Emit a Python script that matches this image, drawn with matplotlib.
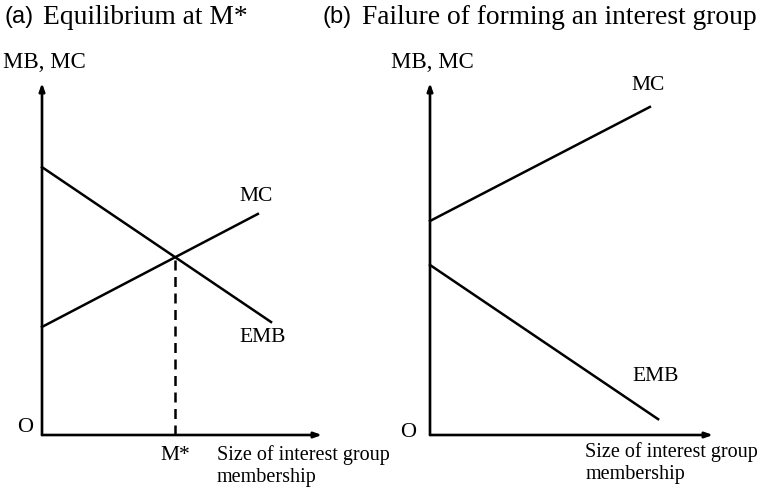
import matplotlib
matplotlib.use('Agg')
import matplotlib.pyplot as plt

# panel (a): lines given by (x, y) endpoints in axis units (0..10)
emb_a_x = [0, 8.18]
emb_a_y = [7.61, 3.21]
mc_a_x = [0, 7.71]
mc_a_y = [3.07, 6.28]

# panel (b)
emb_b_x = [0, 8.06]
emb_b_y = [4.83, 0.45]
mc_b_x = [0, 7.77]
mc_b_y = [6.08, 9.32]

titles = ["Equilibrium at M*", "Failure of forming an interest group"]
tags = ["(a)", "(b)"]
ylabel = "MB, MC"
xlabel = "Size of interest group\nmembership"

serif = 'Liberation Serif'
sans = 'Liberation Sans'
fs = 15.5

W, H = 760, 493
fig = plt.figure(figsize=(W / 100, H / 100), dpi=100)


def px_axes(left, right, bottom, top):
    return fig.add_axes([left / W, 1 - bottom / H, (right - left) / W, (bottom - top) / H])


def draw_axes(ax):
    ax.set_xlim(0, 10)
    ax.set_ylim(0, 10)
    ax.axis('off')
    arrow = dict(arrowstyle='-|>,head_length=0.45,head_width=0.16', lw=1.9, color='black',
                 shrinkA=0, shrinkB=0)
    ax.annotate('', xy=(10, 0), xytext=(0, 0), arrowprops=arrow, annotation_clip=False)
    ax.annotate('', xy=(0, 10), xytext=(0, 0), arrowprops=arrow, annotation_clip=False)


def line_cross(x1, y1, x2, y2):
    m1 = (y1[1] - y1[0]) / (x1[1] - x1[0])
    m2 = (y2[1] - y2[0]) / (x2[1] - x2[0])
    x = (y2[0] - y1[0]) / (m1 - m2)
    return x, y1[0] + m1 * x


# ---- panel (a)
ax1 = px_axes(42, 322, 435, 83)
draw_axes(ax1)
ax1.plot(emb_a_x, emb_a_y, color='black', lw=1.8, clip_on=False)
ax1.plot(mc_a_x, mc_a_y, color='black', lw=1.8, clip_on=False)
mx, my = line_cross(emb_a_x, emb_a_y, mc_a_x, mc_a_y)
ax1.plot([mx, mx], [0, my], color='black', lw=1.8, dashes=(4, 2.6), clip_on=False)
ax1.text(mc_a_x[1] - 0.05, mc_a_y[1] + 0.5, "MC", fontsize=fs, family=serif, ha='center', va='center')
ax1.text(emb_a_x[1] - 0.3, emb_a_y[1] - 0.43, "EMB", fontsize=fs, family=serif, ha='center', va='center')
ax1.text(mx, -0.57, "M*", fontsize=fs, family=serif, ha='center', va='center', clip_on=False)
ax1.text(-0.6, 0.2, "O", fontsize=16, family=serif, ha='center', va='center')
ax1.text(0.1, 10.57, ylabel, fontsize=16.5, family=serif, ha='center', va='center')
ax1.text(6.25, -0.28, xlabel, fontsize=fs - 1, family=serif, ha='left', va='top', linespacing=1.2)

# ---- panel (b)
ax2 = px_axes(430, 713, 435, 83)
draw_axes(ax2)
ax2.plot(emb_b_x, emb_b_y, color='black', lw=1.8, clip_on=False)
ax2.plot(mc_b_x, mc_b_y, color='black', lw=1.8, clip_on=False)
ax2.text(mc_b_x[1] - 0.05, mc_b_y[1] + 0.6, "MC", fontsize=fs, family=serif, ha='center', va='center')
ax2.text(emb_b_x[1] - 0.1, emb_b_y[1] + 1.2, "EMB", fontsize=fs, family=serif, ha='center', va='center')
ax2.text(-0.78, 0.07, "O", fontsize=16, family=serif, ha='center', va='center')
ax2.text(0.07, 10.57, ylabel, fontsize=16.5, family=serif, ha='center', va='center')
ax2.text(5.48, -0.2, xlabel, fontsize=fs - 1, family=serif, ha='left', va='top', linespacing=1.2)

# ---- titles
fig.text(5 / W, 1 - 17 / H, tags[0], fontsize=17, family=sans, va='center')
fig.text(43 / W, 1 - 17 / H, titles[0], fontsize=19.8, family=serif, va='center')
fig.text(323 / W, 1 - 17 / H, tags[1], fontsize=17, family=sans, va='center')
fig.text(362 / W, 1 - 17 / H, titles[1], fontsize=19.8, family=serif, va='center')

fig.savefig('out.png', dpi=100)
